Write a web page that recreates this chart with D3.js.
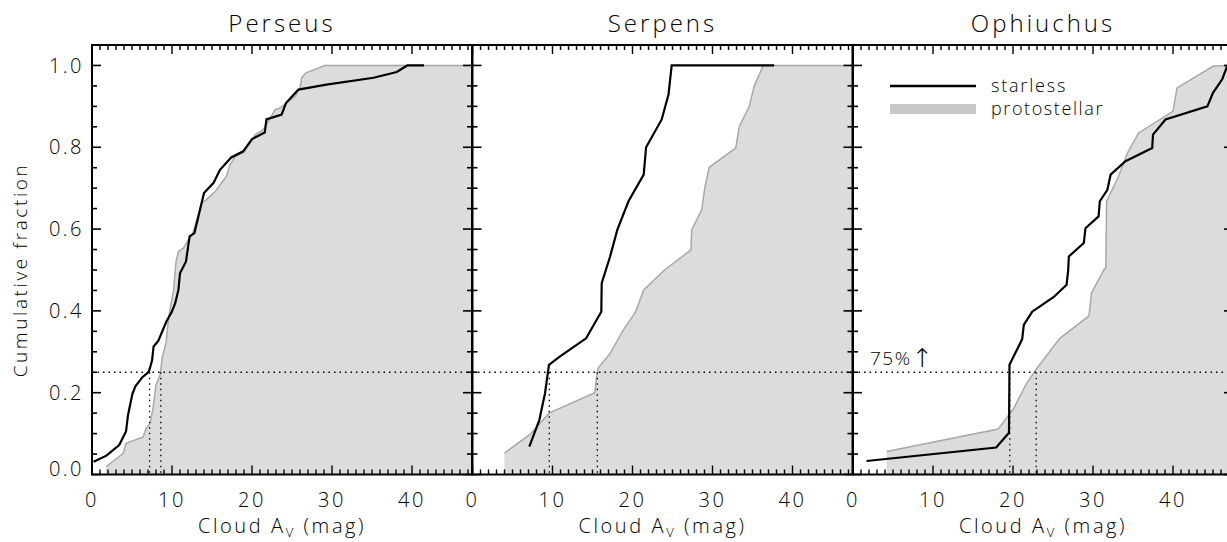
<!DOCTYPE html>
<html>
<head>
<meta charset="utf-8">
<script src="https://cdn.jsdelivr.net/npm/d3@7"></script>
<style>
  html, body { margin: 0; padding: 0; background: #fff; }
  svg text { font-family: 'Open Sans', 'DejaVu Sans', sans-serif; font-weight: 300; fill: #000; }
</style>
</head>
<body>
<svg id="chart" width="1227" height="542"></svg>
<script>
// ---- data ----
const panelNames = ["Perseus", "Serpens", "Ophiuchus"];
const xTicks = [0, 10, 20, 30, 40];
const yTicks = [0.0, 0.2, 0.4, 0.6, 0.8, 1.0];
const yTickLabels = ["0.0", "0.2", "0.4", "0.6", "0.8", "1.0"];
const quartileLevel = 0.25;

// [Cloud A_V, cumulative fraction]
const perseusStarless = [[0.2,0.031],[1.8,0.046],[3.4,0.072],[4.25,0.105],[4.5,0.145],[5.04,0.196],[5.4,0.215],[6.3,0.238],[7.1,0.251],[7.5,0.278],[7.7,0.313],[8.3,0.327],[9.3,0.374],[9.96,0.397],[10.4,0.419],[10.8,0.451],[11.0,0.492],[11.75,0.521],[12.2,0.582],[12.8,0.590],[13.3,0.631],[14.0,0.688],[15.2,0.713],[16.0,0.745],[17.4,0.775],[18.9,0.790],[20.0,0.820],[21.6,0.836],[21.8,0.868],[23.7,0.880],[24.25,0.908],[25.8,0.941],[29.3,0.953],[35.2,0.970],[38.1,0.984],[39.4,1.0],[41.5,1.0]];
const perseusProto = [[1.75,0.019],[3.9,0.052],[4.25,0.076],[6.4,0.092],[6.75,0.113],[7.25,0.125],[7.6,0.158],[8.0,0.219],[8.5,0.243],[8.8,0.288],[9.25,0.321],[9.5,0.37],[9.8,0.41],[10.2,0.451],[10.5,0.52],[10.8,0.545],[11.4,0.553],[12.6,0.59],[13.7,0.664],[14.3,0.672],[15.4,0.692],[16.8,0.729],[17.25,0.757],[17.9,0.778],[18.9,0.786],[19.75,0.81],[20.4,0.831],[21.4,0.843],[22.9,0.892],[23.5,0.896],[25.4,0.925],[26.0,0.945],[26.2,0.970],[26.75,0.982],[29.1,1.0]];
const serpensStarless = [[7.1,0.068],[8.35,0.133],[9.06,0.198],[9.56,0.268],[10.9,0.288],[14.2,0.333],[16.1,0.398],[16.15,0.468],[17.2,0.533],[18.1,0.598],[19.5,0.668],[21.4,0.733],[21.7,0.80],[23.65,0.868],[24.5,0.929],[24.9,1.0],[37.7,1.0]];
const serpensProto = [[3.98,0.052],[7.3,0.1],[9.56,0.15],[15.3,0.2],[15.5,0.239],[15.7,0.26],[17.2,0.296],[18.85,0.353],[20.4,0.398],[21.4,0.451],[24.0,0.50],[27.3,0.549],[27.4,0.598],[28.65,0.647],[29.06,0.704],[29.6,0.751],[32.9,0.798],[33.35,0.851],[34.6,0.90],[35.2,0.949],[36.35,1.0]];
const ophiuchusStarless = [[1.69,0.033],[17.9,0.066],[19.5,0.102],[19.56,0.268],[21.15,0.331],[21.35,0.366],[22.4,0.398],[25.1,0.434],[26.7,0.464],[26.9,0.50],[26.98,0.533],[28.85,0.566],[29.06,0.602],[30.7,0.631],[30.85,0.668],[31.8,0.696],[32.2,0.733],[34.06,0.766],[37.4,0.798],[37.5,0.831],[39.06,0.868],[44.3,0.90],[45.0,0.933],[46.15,0.966],[46.8,1.0]];
const ophiuchusProto = [[4.2,0.056],[18.15,0.111],[20.1,0.162],[21.7,0.223],[23.0,0.26],[25.85,0.333],[29.5,0.388],[29.8,0.443],[31.35,0.50],[31.6,0.505],[31.7,0.668],[33.2,0.729],[34.3,0.786],[35.7,0.835],[40.0,0.888],[40.5,0.945],[45.0,0.998],[46.6,1.0]];
const starlessSeries = [perseusStarless, serpensStarless, ophiuchusStarless];
const protoSeries = [perseusProto, serpensProto, ophiuchusProto];
// A_V where each curve reaches the 25% level: [starless, protostellar]
const quartileAv = [[7.2, 8.6], [9.6, 15.6], [19.6, 22.9]];

// ---- layout ----
const svg = d3.select("#chart");
const panelLeft = [92, 472.5, 853];
const panelW = 380;
const plotTop = 45, plotBottom = 474.5;
const xMax = 47.5, yMax = 1.05;
const fillGray = "#dcdcdc", lineGray = "#a8a8a8", legendGray = "#c8c8c8";

const y = d3.scaleLinear().domain([0, yMax]).range([plotBottom, plotTop]);

panelNames.forEach((name, i) => {
  const x0 = panelLeft[i];
  const x = d3.scaleLinear().domain([0, xMax]).range([x0, x0 + panelW]);
  const g = svg.append("g");
  const clipId = "clip" + i;
  svg.append("clipPath").attr("id", clipId).append("rect")
    .attr("x", x0).attr("y", plotTop).attr("width", panelW).attr("height", plotBottom - plotTop);
  const plot = g.append("g").attr("clip-path", `url(#${clipId})`);

  // protostellar filled area
  const proto = protoSeries[i];
  const poly = [[proto[0][0], 0], ...proto, [xMax, 1.0], [xMax, 0]];
  plot.append("path")
    .attr("d", d3.line().x(d => x(d[0])).y(d => y(d[1]))(poly) + "Z")
    .attr("fill", fillGray).attr("stroke", "none");
  plot.append("path")
    .attr("d", d3.line().x(d => x(d[0])).y(d => y(d[1]))([...proto, [xMax, 1.0]]))
    .attr("fill", "none").attr("stroke", lineGray).attr("stroke-width", 1.5);

  // dotted reference lines
  plot.append("line")
    .attr("x1", x(0)).attr("x2", x(xMax)).attr("y1", y(quartileLevel)).attr("y2", y(quartileLevel))
    .attr("stroke", "#000").attr("stroke-width", 1.3).attr("stroke-dasharray", "1.5,4");
  quartileAv[i].forEach(v => {
    plot.append("line")
      .attr("x1", x(v)).attr("x2", x(v)).attr("y1", y(quartileLevel)).attr("y2", y(0))
      .attr("stroke", "#000").attr("stroke-width", 1.3).attr("stroke-dasharray", "1.5,4");
  });

  // starless line
  plot.append("path")
    .attr("d", d3.line().x(d => x(d[0])).y(d => y(d[1]))(starlessSeries[i]))
    .attr("fill", "none").attr("stroke", "#000").attr("stroke-width", 2.2)
    .attr("stroke-linejoin", "miter");

  // axes: ticks
  const ax = g.append("g");
  const minorX = d3.range(0, xMax + 0.001, 1);
  minorX.forEach(v => {
    const major = v % 10 === 0;
    const L = major ? 9 : 5;
    ax.append("line").attr("x1", x(v)).attr("x2", x(v)).attr("y1", plotBottom).attr("y2", plotBottom - L)
      .attr("stroke", "#000").attr("stroke-width", 1.4);
    ax.append("line").attr("x1", x(v)).attr("x2", x(v)).attr("y1", plotTop).attr("y2", plotTop + L)
      .attr("stroke", "#000").attr("stroke-width", 1.4);
  });
  const minorY = d3.range(0, 1.0001, 0.05);
  minorY.forEach(v => {
    const major = Math.abs(Math.round(v * 5) - v * 5) < 1e-6;
    const L = major ? 9 : 5;
    ax.append("line").attr("x1", x0).attr("x2", x0 + L).attr("y1", y(v)).attr("y2", y(v))
      .attr("stroke", "#000").attr("stroke-width", 1.6);
    ax.append("line").attr("x1", x0 + panelW).attr("x2", x0 + panelW - L).attr("y1", y(v)).attr("y2", y(v))
      .attr("stroke", "#000").attr("stroke-width", 1.6);
  });
  // frame
  ax.append("rect").attr("x", x0).attr("y", plotTop).attr("width", panelW).attr("height", plotBottom - plotTop)
    .attr("fill", "none").attr("stroke", "#000").attr("stroke-width", 2);

  // x tick labels
  xTicks.forEach(v => {
    g.append("text").attr("x", x(v)).attr("y", 507).attr("text-anchor", "middle")
      .attr("font-size", 20).attr("letter-spacing", 2.5).text(v);
  });
  // x label
  const xl = g.append("text").attr("x", x0 + panelW / 2).attr("y", 533).attr("text-anchor", "middle")
    .attr("font-size", 20).attr("letter-spacing", 2.6);
  xl.append("tspan").text("Cloud A");
  xl.append("tspan").attr("font-size", 13).attr("dy", 4).text("V");
  xl.append("tspan").attr("dy", -4).text(" (mag)");
  // title
  g.append("text").attr("x", x0 + panelW / 2).attr("y", 32).attr("text-anchor", "middle")
    .attr("font-size", 24).attr("letter-spacing", 3).text(name);
});

// y tick labels (left panel only)
yTicks.forEach((v, k) => {
  const yy = v === 0 ? y(v) - 6 : y(v);
  svg.append("text").attr("x", 84).attr("y", yy).attr("dy", "0.36em").attr("text-anchor", "end")
    .attr("font-size", 20).attr("letter-spacing", 2.5).text(yTickLabels[k]);
});
svg.append("text").attr("transform", "translate(27,270) rotate(-90)").attr("text-anchor", "middle")
  .attr("font-size", 19).attr("letter-spacing", 2.6).text("Cumulative fraction");

// legend (third panel)
svg.append("line").attr("x1", 890).attr("x2", 976).attr("y1", 86).attr("y2", 86)
  .attr("stroke", "#000").attr("stroke-width", 2.5);
svg.append("rect").attr("x", 890).attr("y", 104).attr("width", 86).attr("height", 10).attr("fill", legendGray);
svg.append("text").attr("x", 991).attr("y", 86).attr("dy", "0.36em").attr("font-size", 18).attr("letter-spacing", 1.8).text("starless");
svg.append("text").attr("x", 991).attr("y", 109).attr("dy", "0.36em").attr("font-size", 18).attr("letter-spacing", 1.6).text("protostellar");

// annotation
const ann = svg.append("text").attr("x", 870).attr("y", 365).attr("font-size", 19).attr("letter-spacing", 1.5);
ann.append("tspan").text("75%");
ann.append("tspan").attr("font-size", 26).attr("dy", 2).text("↑");
</script>
</body>
</html>
